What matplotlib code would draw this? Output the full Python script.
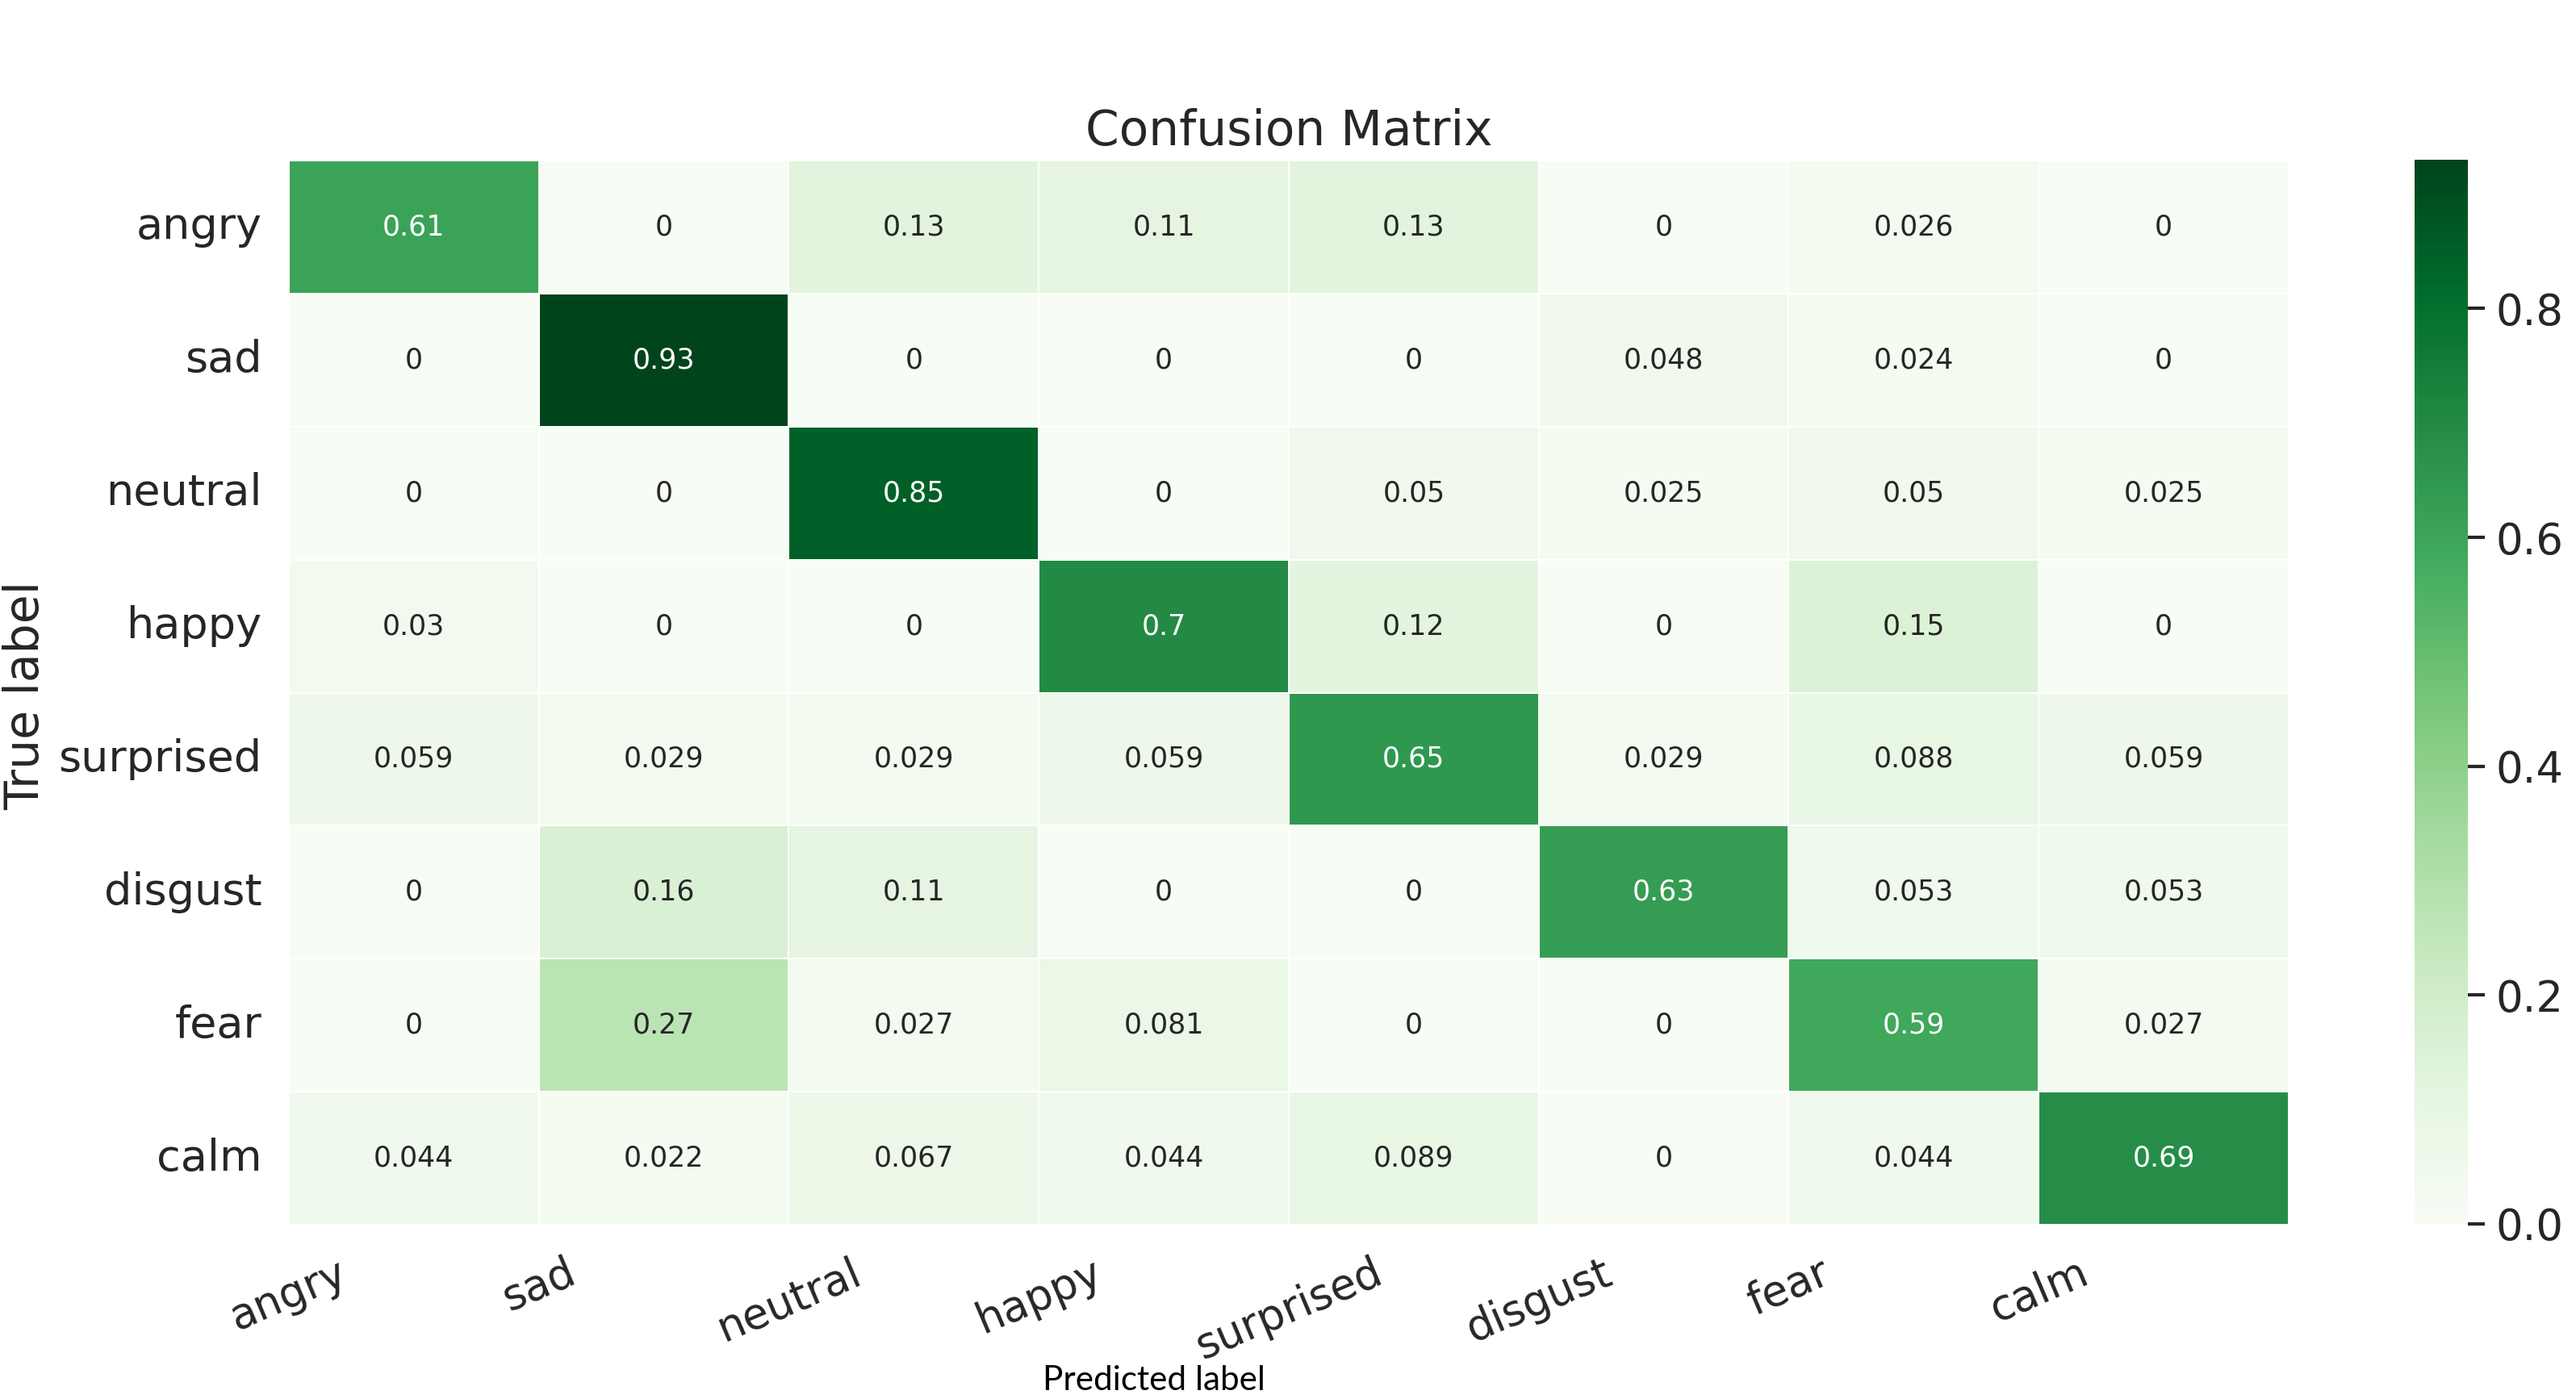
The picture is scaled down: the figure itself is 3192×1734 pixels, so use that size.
import numpy as np
import matplotlib
matplotlib.use("Agg")
import matplotlib.pyplot as plt
import seaborn as sns

labels = ["angry", "sad", "neutral", "happy", "surprised", "disgust", "fear", "calm"]

row_angry     = [0.61, 0,    0.13,  0.11,  0.13,  0,     0.026, 0]
row_sad       = [0,    0.93, 0,     0,     0,     0.048, 0.024, 0]
row_neutral   = [0,    0,    0.85,  0,     0.05,  0.025, 0.05,  0.025]
row_happy     = [0.03, 0,    0,     0.7,   0.12,  0,     0.15,  0]
row_surprised = [0.059, 0.029, 0.029, 0.059, 0.65, 0.029, 0.088, 0.059]
row_disgust   = [0,    0.16, 0.11,  0,     0,     0.63,  0.053, 0.053]
row_fear      = [0,    0.27, 0.027, 0.081, 0,     0,     0.59,  0.027]
row_calm      = [0.044, 0.022, 0.067, 0.044, 0.089, 0,   0.044, 0.69]

cm = np.array([row_angry, row_sad, row_neutral, row_happy,
               row_surprised, row_disgust, row_fear, row_calm])

plt.rcParams['font.family'] = ['DejaVu Sans']
dark = '#262626'
plt.rcParams['text.color'] = dark
plt.rcParams['axes.labelcolor'] = dark
plt.rcParams['xtick.color'] = dark
plt.rcParams['ytick.color'] = dark

W, H = 3192, 1734
fig = plt.figure(figsize=(W / 200, H / 200), dpi=200)
ax = fig.add_axes([358 / W, 1 - 1518 / H, (2836 - 358) / W, (1518 - 199) / H])
cax = fig.add_axes([2992 / W, 1 - 1517 / H, 66 / W, (1517 - 198) / H])

sns.heatmap(cm, annot=True, fmt='.2g', cmap='Greens', vmin=0, vmax=cm.max(),
            linewidths=0.7, linecolor='white', ax=ax, cbar_ax=cax,
            annot_kws={'size': 12.5})

ax.set_xticks(np.arange(len(labels)))
ax.set_xticklabels(labels, rotation=23, ha='center', fontsize=19)
ax.set_yticks(np.arange(len(labels)) + 0.5)
ax.set_yticklabels(labels, rotation=0, fontsize=19.5)
ax.tick_params(axis='both', length=0, pad=12)
ax.set_xlabel('')
ax.set_ylabel('')
ax.set_title('Confusion Matrix', fontsize=21.5, pad=7)

cax.tick_params(length=7.5, width=1.5, pad=5, labelsize=19, colors=dark)
for s in cax.spines.values():
    s.set_visible(False)

fig.text(32 / W, 1 - 862 / H, 'True label', rotation=90, ha='center', va='center',
         fontsize=21, color=dark)
fig.text(1430 / W, 11 / H, 'Predicted label', ha='center', va='baseline',
         fontsize=15.2, family=['Lato', 'DejaVu Sans'], color='black')

fig.savefig('out.png', dpi=200, facecolor='white')
